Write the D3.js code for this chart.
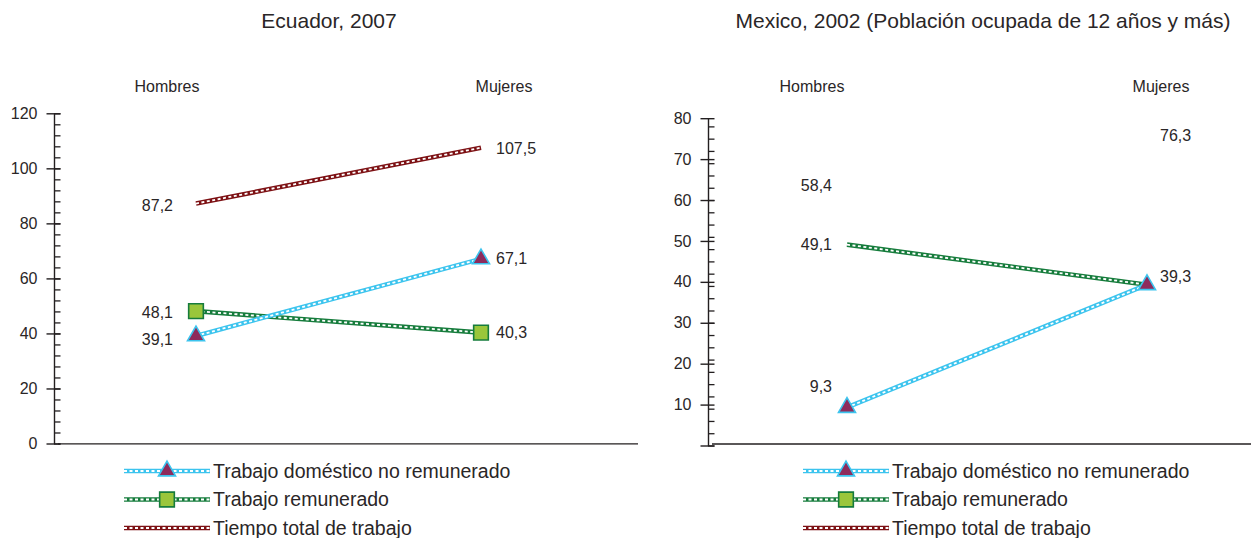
<!DOCTYPE html>
<html>
<head>
<meta charset="utf-8">
<script src="https://cdn.jsdelivr.net/npm/d3@7"></script>
<style>
  html, body { margin: 0; padding: 0; background: #fff; }
  svg { display: block; font-family: "Liberation Sans", Arial, sans-serif; }
</style>
</head>
<body>
<svg id="chart" width="1251" height="538"></svg>
<script>
// ---- data ----
const categories = ["Hombres", "Mujeres"];
const seriesNames = ["Trabajo doméstico no remunerado", "Trabajo remunerado", "Tiempo total de trabajo"];

const ecuadorTitle = "Ecuador, 2007";
const ecuadorDomestico = [39.1, 67.1];
const ecuadorRemunerado = [48.1, 40.3];
const ecuadorTotal = [87.2, 107.5];
const ecuadorTicks = [0, 20, 40, 60, 80, 100, 120];

const mexicoTitle = "Mexico, 2002 (Población ocupada de 12 años y más)";
const mexicoDomestico = [9.3, 39.3];
const mexicoRemunerado = [49.1, 39.3];
const mexicoTotal = [58.4, 76.3];
const mexicoTicks = [0, 10, 20, 30, 40, 50, 60, 70, 80];

// ---- styles ----
const colors = {
  dom: "#3cc4ee",
  rem: "#167c3c",
  tot: "#7d1114",
  triFill: "#8e2b5c",
  sqFill: "#9ac63b",
  text: "#2a2627"
};

const svg = d3.select("#chart");
const fmt = d => d3.format(".1f")(d).replace(".", ",");

function dashedLine(g, pts, color) {
  const line = d3.line();
  g.append("path").attr("d", line(pts)).attr("fill", "none")
    .attr("stroke", color).attr("stroke-width", 4.6);
  g.append("path").attr("d", line(pts)).attr("fill", "none")
    .attr("stroke", "#fff").attr("stroke-width", 1.8)
    .attr("stroke-dasharray", "3,2.5");
}

function marker(g, kind, x, y) {
  if (kind === "tri") {
    g.append("path").attr("d", d3.symbol(d3.symbolTriangle, 125)())
      .attr("transform", `translate(${x},${y})`)
      .attr("fill", colors.triFill).attr("stroke", colors.dom).attr("stroke-width", 1.6);
  } else if (kind === "sq") {
    g.append("path").attr("d", d3.symbol(d3.symbolSquare, 215)())
      .attr("transform", `translate(${x},${y})`)
      .attr("fill", colors.sqFill).attr("stroke", colors.rem).attr("stroke-width", 1.6);
  }
}

function panel(cfg) {
  const g = svg.append("g");
  const y = d3.scaleLinear().domain(cfg.domain).range([cfg.yBottom, cfg.yTop]);
  const x = d3.scalePoint().domain(categories).range(cfg.xRange);
  const xl = d3.scalePoint().domain(categories).range(cfg.labelRange);

  // title
  g.append("text").attr("x", cfg.titleX).attr("y", 28).attr("text-anchor", "middle")
    .attr("font-size", 21).attr("fill", colors.text).text(cfg.title);
  // category labels
  g.selectAll(".cat").data(categories).enter().append("text")
    .attr("x", d => xl(d)).attr("y", 92).attr("text-anchor", "middle")
    .attr("font-size", 16).attr("fill", colors.text).text(d => d);

  // baseline
  g.append("line").attr("x1", cfg.baseX1).attr("x2", cfg.baseX2)
    .attr("y1", cfg.baseY).attr("y2", cfg.baseY)
    .attr("stroke", "#231f20").attr("stroke-width", 1.3);

  // minor ticks
  const minor = d3.range(cfg.domain[0], cfg.domain[1] + 0.001, cfg.minorStep);
  const gMinor = g.append("g").attr("transform", `translate(${cfg.axisX},0)`)
    .call(d3.axisLeft(y).tickValues(minor).tickSize(-6.5).tickFormat(""));
  gMinor.select(".domain").remove();
  gMinor.selectAll("line").attr("stroke", "#231f20").attr("stroke-width", 1.3);

  // major ticks + axis
  const gAx = g.append("g").attr("transform", `translate(${cfg.axisX},0)`)
    .call(d3.axisLeft(y).tickValues(cfg.ticks).tickSize(7.5).tickPadding(9)
      .tickSizeOuter(0).tickFormat(d => (cfg.hideZero && d === 0) ? "" : d));
  gAx.select(".domain").attr("stroke", "#231f20").attr("stroke-width", 1.4);
  gAx.selectAll(".tick line").attr("x1", 6.5).attr("stroke", "#231f20").attr("stroke-width", 1.4);
  gAx.selectAll(".tick text").attr("font-size", 16).attr("fill", colors.text)
    .attr("font-family", "Liberation Sans, Arial, sans-serif");

  // series
  const series = [
    { key: "tot", vals: cfg.total, marker: null, line: cfg.showTotalLine },
    { key: "rem", vals: cfg.rem, marker: cfg.remMarkers ? "sq" : null, line: true },
    { key: "dom", vals: cfg.dom, marker: "tri", line: true }
  ];
  series.forEach(s => {
    const pts = categories.map((c, i) => [x(c), y(s.vals[i])]);
    if (s.line) dashedLine(g, pts, colors[s.key]);
    if (s.marker) pts.forEach(p => marker(g, s.marker, p[0], p[1]));
  });

  // value labels
  series.forEach(s => {
    categories.forEach((c, i) => {
      const off = cfg.labelOffsets[s.key][i];
      if (off === null) return;
      const left = i === 0;
      g.append("text")
        .attr("x", x(c) + (left ? -cfg.labelGapL : cfg.labelGapR))
        .attr("y", y(s.vals[i]) + off)
        .attr("dy", "0.35em")
        .attr("text-anchor", left ? "end" : "start")
        .attr("font-size", 16).attr("fill", colors.text)
        .text(fmt(s.vals[i]));
    });
  });

  // legend
  const legendKeys = ["dom", "rem", "tot"];
  legendKeys.forEach((k, i) => {
    const ly = cfg.legendY + i * 28.5;
    const lx0 = cfg.legendX, lx1 = cfg.legendX + 86;
    dashedLine(g, [[lx0, ly], [lx1, ly]], colors[k]);
    if (k === "dom") marker(g, "tri", (lx0 + lx1) / 2, ly);
    if (k === "rem") marker(g, "sq", (lx0 + lx1) / 2, ly);
    g.append("text").attr("x", lx1 + 3).attr("y", ly).attr("dy", "0.35em")
      .attr("font-size", 19.5).attr("fill", colors.text).text(seriesNames[i]);
  });
}

panel({
  title: ecuadorTitle, titleX: 329,
  domain: [0, 120], ticks: ecuadorTicks, minorStep: 4, hideZero: false,
  yBottom: 443.5, yTop: 113.3, axisX: 54,
  xRange: [196, 481], labelRange: [167, 504],
  baseX1: 58, baseX2: 638, baseY: 443.8,
  dom: ecuadorDomestico, rem: ecuadorRemunerado, total: ecuadorTotal,
  showTotalLine: true, remMarkers: true,
  labelGapL: 23, labelGapR: 15,
  labelOffsets: { tot: [2, 1], rem: [1, 0], dom: [3, 0] },
  legendX: 124, legendY: 471
});

panel({
  title: mexicoTitle, titleX: 983,
  domain: [0, 80], ticks: mexicoTicks, minorStep: 3, hideZero: true,
  yBottom: 445.5, yTop: 118.2, axisX: 708,
  xRange: [847, 1147], labelRange: [812, 1161],
  baseX1: 712, baseX2: 1251, baseY: 444,
  dom: mexicoDomestico, rem: mexicoRemunerado, total: mexicoTotal,
  showTotalLine: false, remMarkers: false,
  labelGapL: 15, labelGapR: 13,
  labelOffsets: { tot: [-21, 2], rem: [0, null], dom: [-21, -8] },
  legendX: 803, legendY: 471
});
</script>
</body>
</html>
